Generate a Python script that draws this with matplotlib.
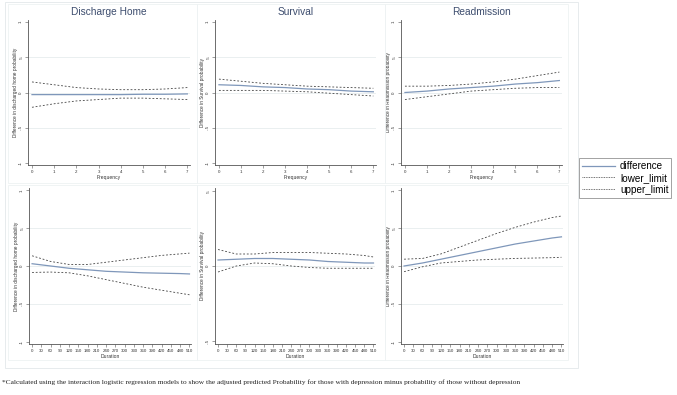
import matplotlib
matplotlib.use("Agg")
import matplotlib.pyplot as plt
from matplotlib.patches import Rectangle
from matplotlib.lines import Line2D

W, H = 677, 395

# ---------------- data ----------------
freq = [0, 1, 2, 3, 4, 5, 6, 7]
dur = [0, 60, 120, 180, 240, 300, 360, 420, 480, 510]

dh_freq_diff = [-0.03, -0.03, -0.03, -0.03, -0.03, -0.025, -0.025, -0.02]
dh_freq_upper = [0.15, 0.11, 0.07, 0.05, 0.04, 0.04, 0.05, 0.07]
dh_freq_lower = [-0.21, -0.16, -0.12, -0.10, -0.08, -0.08, -0.09, -0.10]

sv_freq_diff = [0.11, 0.10, 0.08, 0.07, 0.05, 0.04, 0.02, 0.01]
sv_freq_upper = [0.19, 0.16, 0.13, 0.11, 0.09, 0.08, 0.07, 0.06]
sv_freq_lower = [0.03, 0.03, 0.03, 0.02, 0.01, -0.01, -0.03, -0.05]

ra_freq_diff = [0.0, 0.02, 0.05, 0.07, 0.09, 0.12, 0.14, 0.17]
ra_freq_upper = [0.09, 0.09, 0.10, 0.12, 0.15, 0.19, 0.24, 0.29]
ra_freq_lower = [-0.10, -0.06, -0.02, 0.02, 0.04, 0.06, 0.07, 0.07]

dh_dur_diff = [0.03, 0.0, -0.03, -0.05, -0.07, -0.08, -0.09, -0.095, -0.10, -0.105]
dh_dur_upper = [0.135, 0.06, 0.02, 0.02, 0.05, 0.08, 0.11, 0.14, 0.16, 0.17]
dh_dur_lower = [-0.085, -0.08, -0.09, -0.13, -0.18, -0.23, -0.28, -0.32, -0.36, -0.38]

sv_dur_diff = [0.04, 0.045, 0.05, 0.05, 0.045, 0.04, 0.03, 0.025, 0.02, 0.02]
sv_dur_upper = [0.11, 0.08, 0.08, 0.09, 0.09, 0.09, 0.085, 0.08, 0.07, 0.06]
sv_dur_lower = [-0.04, 0.0, 0.02, 0.015, 0.0, -0.01, -0.015, -0.015, -0.015, -0.015]

ra_dur_diff = [0.0, 0.04, 0.09, 0.14, 0.19, 0.24, 0.29, 0.33, 0.37, 0.385]
ra_dur_upper = [0.09, 0.10, 0.16, 0.25, 0.34, 0.43, 0.51, 0.58, 0.64, 0.66]
ra_dur_lower = [-0.075, -0.01, 0.04, 0.06, 0.08, 0.09, 0.10, 0.105, 0.11, 0.115]

titles = ["Discharge Home", "Survival", "Readmission"]
ylabels = ["Difference in discharged home probability",
           "Difference in Survival probability",
           "Difference in Readmission probability"]
freq_ticks = [0, 1, 2, 3, 4, 5, 6, 7]
dur_ticks = list(range(0, 511, 30))
yticks_wide = [-1, -0.5, 0, 0.5, 1]
ytick_labels_wide = ["-1", "-.5", "0", ".5", "1"]
yticks_narrow = [-0.5, 0, 0.5]
ytick_labels_narrow = ["-.5", "0", ".5"]
legend_labels = ["difference", "lower_limit", "upper_limit"]
footnote = ("*Calculated using the interaction logistic regression models to show the adjusted "
            "predicted Probability for those with depression minus probability of those without depression")

# ---------------- style ----------------
SANS = ["Liberation Sans", "DejaVu Sans"]
plt.rcParams['font.family'] = SANS
DIFF_C = "#7f97ba"
LIM_C = "#444444"
GRID_C = "#e6ecee"
AX_C = "#555555"
TITLE_C = "#3d4d6e"

fig = plt.figure(figsize=(W / 100, H / 100), dpi=100)


def px_axes(l, t, r, b):
    return fig.add_axes([l / W, 1 - b / H, (r - l) / W, (b - t) / H])


def frame(l, t, r, b, color):
    fig.patches.append(Rectangle((l / W, 1 - b / H), (r - l) / W, (b - t) / H,
                                 transform=fig.transFigure, fill=False,
                                 edgecolor=color, linewidth=0.6, zorder=0))


# outer and panel frames
frame(5, 2, 578, 368, "#e3e8ea")
for (cl, cr) in [(8, 197), (197, 385), (385, 568)]:
    for (rt, rb) in [(4, 183), (185, 360)]:
        frame(cl, rt, cr, rb, "#eef2f3")

# axes positions: (left, top, right, bottom) in px
top_pos = [(28, 20, 190, 165), (215, 20, 376, 165), (401, 20, 562, 165)]
bot_pos = [(29, 188, 191, 344), (215, 188, 375, 344), (401, 188, 563, 344)]

top_data = [(dh_freq_diff, dh_freq_lower, dh_freq_upper),
            (sv_freq_diff, sv_freq_lower, sv_freq_upper),
            (ra_freq_diff, ra_freq_lower, ra_freq_upper)]
bot_data = [(dh_dur_diff, dh_dur_lower, dh_dur_upper),
            (sv_dur_diff, sv_dur_lower, sv_dur_upper),
            (ra_dur_diff, ra_dur_lower, ra_dur_upper)]


def style_axes(ax, ticks, tlabels, xticks, xlabel, ylabel, ylim):
    ax.set_facecolor("white")
    for s in ["top", "right"]:
        ax.spines[s].set_visible(False)
    for s in ["left", "bottom"]:
        ax.spines[s].set_color(AX_C)
        ax.spines[s].set_linewidth(0.6)
    ax.set_yticks(ticks)
    ax.set_yticklabels(tlabels, rotation=90, va="center", fontsize=3.2, color="#333333")
    ax.set_xticks(xticks)
    ax.set_xticklabels([str(v) for v in xticks], fontsize=3.2, color="#333333")
    ax.tick_params(axis="both", length=2, width=0.4, color=AX_C, pad=1.5)
    for v in ticks[1:-1]:
        ax.axhline(v, color=GRID_C, linewidth=0.6, zorder=0)
    ax.set_xlabel(xlabel, fontsize=3.6, labelpad=0.5, color="#333333")
    ax.set_ylabel(ylabel, fontsize=3.4, labelpad=0.8, color="#333333")
    ax.set_ylim(*ylim)


for i in range(3):
    ax = px_axes(*top_pos[i])
    d, lo, up = top_data[i]
    ax.plot(freq, d, color=DIFF_C, linewidth=0.9)
    ax.plot(freq, lo, color=LIM_C, linewidth=0.6, dashes=(2.2, 2.2))
    ax.plot(freq, up, color=LIM_C, linewidth=0.6, dashes=(2.2, 2.2))
    style_axes(ax, yticks_wide, ytick_labels_wide, freq_ticks,
               "Frequency", ylabels[i], (-1.03, 1.03))
    ax.set_xlim(-0.18, 7.12)
    ax.set_title(titles[i], fontsize=7.3, color=TITLE_C, pad=3.5)

for i in range(3):
    ax = px_axes(*bot_pos[i])
    d, lo, up = bot_data[i]
    ax.plot(dur, d, color=DIFF_C, linewidth=0.9)
    ax.plot(dur, lo, color=LIM_C, linewidth=0.6, dashes=(2.2, 2.2))
    ax.plot(dur, up, color=LIM_C, linewidth=0.6, dashes=(2.2, 2.2))
    if i == 1:
        style_axes(ax, yticks_narrow, ytick_labels_narrow, dur_ticks,
                   "Duration", ylabels[i], (-0.52, 0.52))
    else:
        style_axes(ax, yticks_wide, ytick_labels_wide, dur_ticks,
                   "Duration", ylabels[i], (-1.03, 1.03))
    ax.set_xlim(-10, 515)

# legend
handles = [Line2D([], [], color=DIFF_C, linewidth=0.9),
           Line2D([], [], color=LIM_C, linewidth=0.6, dashes=(1, 1)),
           Line2D([], [], color=LIM_C, linewidth=0.6, dashes=(1, 1))]
leg = fig.legend(handles, legend_labels, loc="upper left",
                 bbox_to_anchor=(579 / W, 1 - 158 / H), fontsize=7.1,
                 frameon=True, fancybox=False, handlelength=3.4,
                 handletextpad=0.45, borderpad=0.3, labelspacing=0.2,
                 borderaxespad=0)
leg.get_frame().set_edgecolor("#777777")
leg.get_frame().set_linewidth(0.6)

fig.text(2 / W, 1 - 382 / H, footnote, fontsize=5.3, va="center", ha="left",
         family=["Liberation Serif", "DejaVu Serif"], color="#222222")

fig.savefig("out.png", dpi=100, facecolor="white")
